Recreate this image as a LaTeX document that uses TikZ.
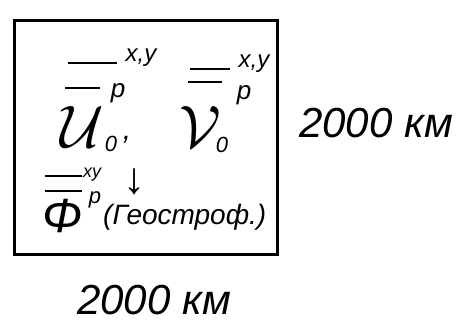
\documentclass[tikz,border=0pt]{standalone}
\usepackage{fontspec}
\setmainfont{Liberation Sans}
\usetikzlibrary{positioning}

\begin{document}
\begin{tikzpicture}[
  x=1pt, y=-1pt,
  hand/.style={inner sep=0pt, font=\itshape\fontsize{#1}{#1}\selectfont},
  big/.style={inner sep=0pt, scale=#1},
  bar/.style={line width=2.5pt},
  frame/.style={line width=3pt}
]
\useasboundingbox (0,0) rectangle (456,327);

% the square domain
\draw[frame] (14,20) rectangle (277,254);

% first component
\draw[bar] (68,63) -- (117,63);
\node[hand=24] (xyu) at (141,58) {x,y};
\draw[bar] (65,88) -- (100,88);
\node[hand=26] (pu) at (118,93) {p};
\node[big=6] (u) at (82,127) {$\mathcal{U}$};
\node[hand=22] (u0) at (111,144) {0};
\node[hand=30] (comma) at (127,140) {,};

% second component
\draw[bar] (190,69) -- (230,69);
\node[hand=24] (xyv) at (254,64) {x,y};
\draw[bar] (188,82) -- (222,82);
\node[hand=26] (pv) at (244,95) {p};
\node[big=6] (v) at (200,127) {$\mathcal{V}$};
\node[hand=22] (v0) at (222,145) {0};

% geopotential
\draw[bar] (45,176) -- (82,176);
\draw[bar] (45,191) -- (82,191);
\node[hand=18] (xyf) at (92,175) {xy};
\node[hand=22] (pf) at (95,200) {p};
\node[big=2.2, font=\bfseries\fontsize{20}{20}\selectfont] (down) at (134,182) {↓};
\node[hand=48] (phi) at (63,216) {Φ};
\node[hand=28, anchor=west] (geo) at (103,217) {(Геостроф.)};

% sizes
\node[hand=42] (side) at (376,123) {2000 км};
\node[hand=42] (base) at (154,300) {2000 км};
\end{tikzpicture}
\end{document}
